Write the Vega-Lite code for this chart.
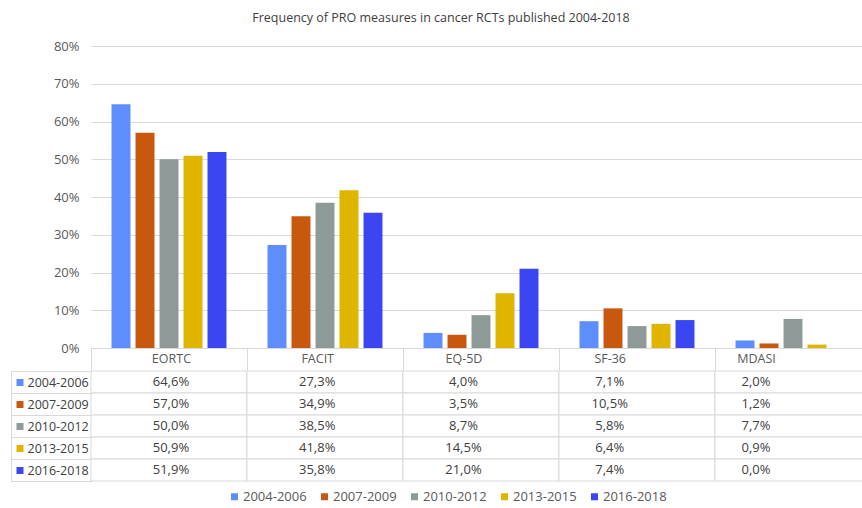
{
  "$schema": "https://vega.github.io/schema/vega-lite/v6.json",
  "padding": {"left": 10, "top": 11, "right": 0, "bottom": 4},
  "config": {
    "font": "Open Sans",
    "view": {"stroke": null},
    "locale": {"number": {"decimal": ",", "thousands": ".", "grouping": [3], "currency": ["", " €"]}},
    "concat": {"spacing": 0}
  },
  "title": {"text": "Frequency of PRO measures in cancer RCTs published 2004-2018", "fontSize": 12.5, "fontWeight": "normal", "color": "#404040", "anchor": "middle", "frame": "bounds", "offset": 16},
  "datasets": {
    "vals": [
      {"measure": "EORTC", "period": "2004-2006", "value": 0.646},
      {"measure": "EORTC", "period": "2007-2009", "value": 0.570},
      {"measure": "EORTC", "period": "2010-2012", "value": 0.500},
      {"measure": "EORTC", "period": "2013-2015", "value": 0.509},
      {"measure": "EORTC", "period": "2016-2018", "value": 0.519},
      {"measure": "FACIT", "period": "2004-2006", "value": 0.273},
      {"measure": "FACIT", "period": "2007-2009", "value": 0.349},
      {"measure": "FACIT", "period": "2010-2012", "value": 0.385},
      {"measure": "FACIT", "period": "2013-2015", "value": 0.418},
      {"measure": "FACIT", "period": "2016-2018", "value": 0.358},
      {"measure": "EQ-5D", "period": "2004-2006", "value": 0.040},
      {"measure": "EQ-5D", "period": "2007-2009", "value": 0.035},
      {"measure": "EQ-5D", "period": "2010-2012", "value": 0.087},
      {"measure": "EQ-5D", "period": "2013-2015", "value": 0.145},
      {"measure": "EQ-5D", "period": "2016-2018", "value": 0.210},
      {"measure": "SF-36", "period": "2004-2006", "value": 0.071},
      {"measure": "SF-36", "period": "2007-2009", "value": 0.105},
      {"measure": "SF-36", "period": "2010-2012", "value": 0.058},
      {"measure": "SF-36", "period": "2013-2015", "value": 0.064},
      {"measure": "SF-36", "period": "2016-2018", "value": 0.074},
      {"measure": "MDASI", "period": "2004-2006", "value": 0.020},
      {"measure": "MDASI", "period": "2007-2009", "value": 0.012},
      {"measure": "MDASI", "period": "2010-2012", "value": 0.077},
      {"measure": "MDASI", "period": "2013-2015", "value": 0.009},
      {"measure": "MDASI", "period": "2016-2018", "value": 0.000}
    ]
  },
  "data": {"name": "vals"},
  "spacing": -6,
  "vconcat": [
    {
      "width": 780,
      "height": 302,
      "layer": [
        {
          "mark": {"type": "bar"},
          "encoding": {
            "x": {"field": "measure", "type": "nominal", "sort": null, "scale": {"paddingInner": 0, "paddingOuter": 0},
                  "axis": {"orient": "bottom", "tickBand": "extent", "ticks": true, "tickSize": 22, "tickColor": "#d9d9d9", "labels": false, "domain": false, "grid": false, "title": null, "minExtent": 22, "maxExtent": 22}},
            "xOffset": {"field": "period", "type": "nominal", "sort": null, "scale": {"paddingInner": 0.21, "paddingOuter": 0.855}},
            "y": {
              "field": "value", "type": "quantitative",
              "scale": {"domain": [0, 0.8], "nice": false},
              "axis": {"format": ".0%", "values": [0, 0.1, 0.2, 0.3, 0.4, 0.5, 0.6, 0.7, 0.8], "domain": false, "ticks": false, "labelPadding": 12, "minExtent": 80, "maxExtent": 80, "gridColor": "#d9d9d9", "labelColor": "#595959", "labelFontSize": 13, "title": null}
            },
            "color": {
              "field": "period", "type": "nominal", "sort": null,
              "scale": {"range": ["#5e8efe", "#c9580f", "#8e9a98", "#dfb500", "#3b45f2"]},
              "legend": {"title": null, "orient": "none", "legendX": 137, "legendY": 444, "direction": "horizontal", "symbolType": "square", "symbolSize": 49, "symbolStrokeWidth": 0, "labelFontSize": 13, "labelColor": "#595959", "labelOffset": 2, "columnPadding": 11}
            }
          }
        },
        {
          "mark": {"type": "point", "opacity": 0},
          "encoding": {
            "x": {"field": "measure", "type": "nominal", "sort": null, "scale": {"type": "point", "padding": 0.6667, "align": 0.41},
                  "axis": {"orient": "bottom", "ticks": false, "domain": false, "grid": false, "labelAngle": 0, "labelPadding": 4, "labelBaseline": "top", "labelFontSize": 12.5, "labelColor": "#595959", "title": null, "minExtent": 22, "maxExtent": 22}}
          }
        }
      ],
      "resolve": {"scale": {"x": "independent"}}
    },
    {
      "width": 780,
      "height": 110,
      "layer": [
        {
          "mark": {"type": "rect", "fill": "white", "stroke": "#d9d9d9", "strokeWidth": 1},
          "encoding": {
            "x": {"field": "measure", "type": "nominal", "sort": null, "scale": {"paddingInner": 0, "paddingOuter": 0}, "axis": null},
            "y": {"field": "period", "type": "nominal", "sort": null, "scale": {"paddingInner": 0, "paddingOuter": 0},
                  "axis": {"orient": "left", "tickBand": "extent", "ticks": true, "tickSize": 80, "tickColor": "#d9d9d9", "domain": false, "grid": false, "labelAlign": "left", "labelBaseline": "middle", "labelPadding": -16, "labelFontSize": 12.5, "labelColor": "#404040", "title": null}}
          }
        },
        {
          "mark": {"type": "text", "fontSize": 13, "color": "#404040"},
          "encoding": {
            "x": {"field": "measure", "type": "nominal", "sort": null, "scale": {"type": "point", "padding": 0.6667, "align": 0.41}, "axis": null},
            "y": {"field": "period", "type": "nominal", "sort": null, "scale": {"paddingInner": 0, "paddingOuter": 0},
                  "axis": {"orient": "left", "offset": 68, "ticks": true, "tickSize": 7, "tickWidth": 7, "tickCap": "butt",
                           "tickColor": {"condition": [
                             {"test": "datum.value == '2004-2006'", "value": "#5e8efe"},
                             {"test": "datum.value == '2007-2009'", "value": "#c9580f"},
                             {"test": "datum.value == '2010-2012'", "value": "#8e9a98"},
                             {"test": "datum.value == '2013-2015'", "value": "#dfb500"}
                           ], "value": "#3b45f2"},
                           "labels": false, "domain": false, "grid": false, "title": null}},
            "text": {"field": "value", "type": "quantitative", "format": ".1%"}
          }
        },
        {
          "mark": {"type": "point", "opacity": 0},
          "encoding": {
            "y": {"field": "period", "type": "nominal", "sort": null, "scale": {"paddingInner": 0, "paddingOuter": 0},
                  "axis": {"orient": "left", "offset": 80, "ticks": false, "labels": false, "domain": true, "domainColor": "#d9d9d9", "grid": false, "title": null}}
          }
        }
      ],
      "resolve": {"scale": {"x": "independent", "y": "independent"}}
    }
  ]
}
